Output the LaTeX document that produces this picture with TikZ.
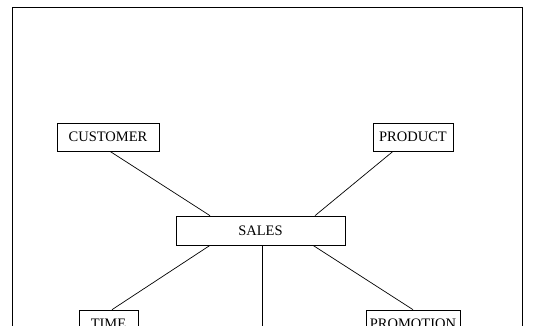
\documentclass[tikz,border=0pt]{standalone}
\usepackage{fontspec}
\setmainfont{Liberation Serif}
\usepackage{tikz}
\usetikzlibrary{calc}
\tikzset{
	dimbox/.style={draw,line width=0.7pt,minimum height=28pt,inner sep=0pt,font=\fontsize{14.5}{16}\selectfont},
	link/.style={line width=0.7pt}
}

\begin{document}
\begin{tikzpicture}[x=1pt,y=-1pt]
		\path[use as bounding box,clip] (0,0) rectangle (548,325);
		%outer frame
		\draw[line width=0.8pt] (12,340) -- (12,7) -- (522,7) -- (522,340);
		\node[dimbox,minimum width=102pt] (customer) at (108,137) {CUSTOMER};
		\node[dimbox,minimum width=80pt] (product) at (413,137) {PRODUCT};
		\node[dimbox,minimum width=169pt,minimum height=29pt] (sales) at (260.5,230.5) {SALES};
		\node[dimbox,minimum width=59pt] (time) at (108.5,324) {TIME};
		\node[dimbox,minimum width=94pt] (promotion) at (413,324) {PROMOTION};
		\coordinate (fact) at (262,340);
		\draw[link] ([xshift=2pt]customer.south) -- ([xshift=-50.5pt]sales.north);
		\draw[link] ([xshift=-20pt]product.south) -- ([xshift=54.5pt]sales.north);
		\draw[link] ([xshift=-50.5pt]sales.south) -- ([xshift=3.5pt]time.north);
		\draw[link] ([xshift=52.5pt]sales.south) -- (promotion.north);
		\draw[link] ([xshift=1.5pt]sales.south) -- (fact);
	\end{tikzpicture}
\end{document}
